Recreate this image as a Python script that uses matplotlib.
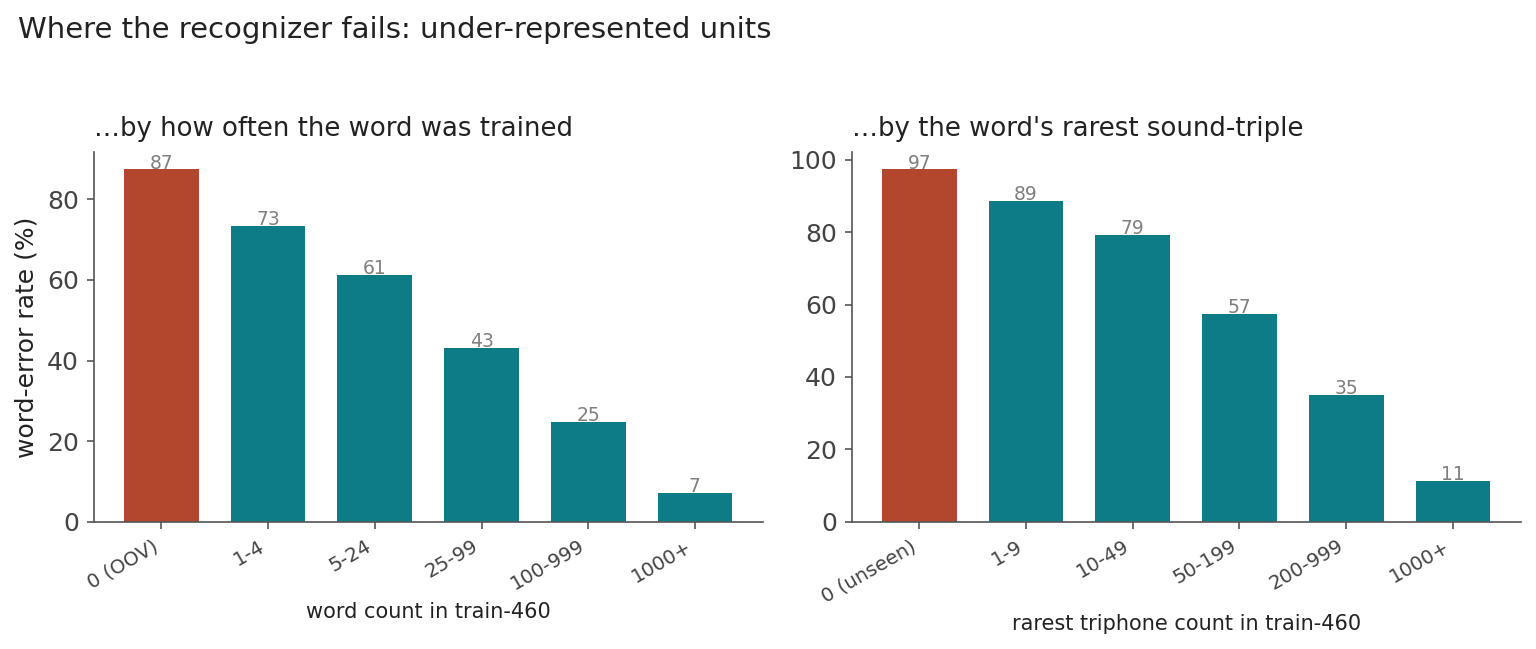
import matplotlib.pyplot as plt

# data
word_bins = ['0 (OOV)', '1-4', '5-24', '25-99', '100-999', '1000+']
word_wer = [87.4, 73.4, 61.3, 43.2, 24.8, 7.2]

tri_bins = ['0 (unseen)', '1-9', '10-49', '50-199', '200-999', '1000+']
tri_wer = [97.3, 88.6, 79.2, 57.4, 35.1, 11.2]

RED = '#b2472d'
TEAL = '#0e7c87'

fig, axes = plt.subplots(1, 2, figsize=(10.24, 4.327), dpi=150)


def draw(ax, bins, vals, title, xlabel):
    cols = [RED] + [TEAL] * (len(bins) - 1)
    bars = ax.bar(range(len(bins)), vals, width=0.7, color=cols)
    for b, v in zip(bars, vals):
        ax.annotate(f'{int(round(v))}', (b.get_x() + b.get_width() / 2, v),
                    xytext=(0, -1.5), textcoords='offset points',
                    ha='center', va='bottom', fontsize=9, color='#808080')
    ax.set_xticks(range(len(bins)))
    ax.set_xticklabels(bins, rotation=30, ha='right', fontsize=9.5, color='#444444')
    ax.tick_params(axis='y', labelsize=12, labelcolor='#444444', color='#555555')
    ax.tick_params(axis='x', color='#555555')
    ax.set_title(title, loc='left', fontsize=12.5, color='#222222', pad=7.5)
    ax.set_xlabel(xlabel, fontsize=10, color='#222222')
    for s in ['top', 'right']:
        ax.spines[s].set_visible(False)
    for s in ['left', 'bottom']:
        ax.spines[s].set_color('#555555')


draw(axes[0], word_bins, word_wer, '…by how often the word was trained', 'word count in train-460')
draw(axes[1], tri_bins, tri_wer, "…by the word's rarest sound-triple", 'rarest triphone count in train-460')
axes[0].set_ylabel('word-error rate (%)', fontsize=12, color='#222222')

fig.suptitle('Where the recognizer fails: under-represented units', x=0.012, y=0.975, ha='left',
             fontsize=14, color='#222222')
fig.subplots_adjust(left=0.061, right=0.990, top=0.766, bottom=0.196, wspace=0.133)
fig.savefig('out.png')
